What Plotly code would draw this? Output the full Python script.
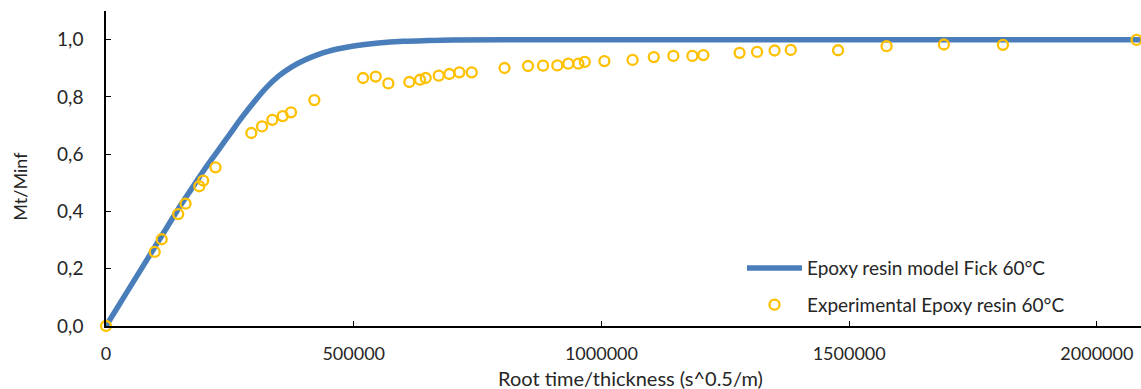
import plotly.graph_objects as go

# Fick model curve
model_x = [0, 25000, 50000, 75000, 100000, 125000, 150000, 175000, 200000,
           225000, 250000, 275000, 300000, 325000, 350000, 375000, 400000,
           425000, 450000, 475000, 500000, 550000, 600000, 650000, 700000,
           800000, 1000000, 1500000, 2100000]
model_y = [0, 0.07, 0.14, 0.21, 0.28, 0.35, 0.42, 0.485, 0.55,
           0.61, 0.67, 0.73, 0.785, 0.835, 0.875, 0.905, 0.928,
           0.946, 0.96, 0.97, 0.978, 0.988, 0.994, 0.997, 0.999,
           1.0, 1.0, 1.0, 1.0]

# Experimental points
exp_x = [0, 98300, 112400, 145700, 160500, 188300, 196200, 221000, 293300,
         314900, 335700, 356700, 373400, 420500, 518800, 544400, 569900,
         612200, 633800, 645300, 671600, 693000, 713200, 738200, 804400,
         851800, 882100, 911000, 933000, 953400, 966300, 1005900, 1062800,
         1105600, 1145100, 1183500, 1205700, 1278800, 1314100, 1349400,
         1382100, 1477600, 1575500, 1691200, 1810300, 2080000]
exp_y = [0, 0.259, 0.303, 0.391, 0.427, 0.488, 0.508, 0.554, 0.674,
         0.697, 0.720, 0.733, 0.746, 0.789, 0.866, 0.871, 0.847,
         0.852, 0.860, 0.866, 0.874, 0.880, 0.886, 0.886, 0.901,
         0.908, 0.909, 0.910, 0.916, 0.916, 0.922, 0.925, 0.929,
         0.939, 0.943, 0.943, 0.946, 0.954, 0.957, 0.962,
         0.964, 0.963, 0.977, 0.983, 0.982, 0.999]

font = "Lato, Carlito, Calibri, sans-serif"
ink = "#262626"
fs = 18

fig = go.Figure()
fig.add_trace(go.Scatter(
    x=model_x, y=model_y, mode="lines", line_shape="spline",
    line=dict(color="#4a7ebb", width=5.5),
    name="Epoxy resin model Fick 60°C", legendgroup="a"
))
fig.add_trace(go.Scatter(
    x=exp_x, y=exp_y, mode="markers", cliponaxis=False,
    marker=dict(symbol="circle-open", size=10, color="#ffc000",
                line=dict(width=2.3, color="#ffc000")),
    name="Experimental Epoxy resin 60°C", legendgroup="b"
))

fig.update_layout(
    width=1141, height=389,
    margin=dict(l=106, r=0, t=11, b=63),
    plot_bgcolor="white", paper_bgcolor="white",
    separators=",.",
    font=dict(family=font, size=fs, color=ink),
    legend=dict(x=0.6145, y=0.006, xanchor="left", yanchor="bottom",
                itemwidth=55, bgcolor="rgba(0,0,0,0)", tracegroupgap=9,
                font=dict(size=19, color=ink)),
    annotations=[
        dict(text="Mt/Minf", textangle=-90, xref="paper", yref="paper",
             x=-0.0826, y=0.444, xanchor="center", yanchor="middle",
             showarrow=False, font=dict(size=fs, color=ink)),
        dict(text="Root time/thickness (s^0.5/m)", xref="paper", yref="paper",
             x=0.507, y=-0.165, xanchor="center", yanchor="middle",
             showarrow=False, font=dict(size=20, color=ink)),
    ],
)
fig.update_xaxes(
    range=[0, 2089000], tickvals=[0, 500000, 1000000, 1500000, 2000000],
    tickformat="d", showgrid=False, zeroline=False,
    showline=True, linecolor="black", linewidth=1.5,
    ticks="inside", ticklen=5, tickcolor="black", ticklabelstandoff=11,
)
fig.update_yaxes(
    range=[0, 1.1], tickvals=[0, 0.2, 0.4, 0.6, 0.8, 1.0],
    tickformat=".1f", showgrid=False, zeroline=False,
    showline=True, linecolor="black", linewidth=1.5,
    ticks="inside", ticklen=5, tickcolor="black", ticklabelstandoff=17,
    tickfont=dict(size=19),
)

# drop the default 8px body margin so the chart sits at the page corner
fig.write_html("out.html", config={"displayModeBar": False},
               post_script="document.body.style.margin='0';")
